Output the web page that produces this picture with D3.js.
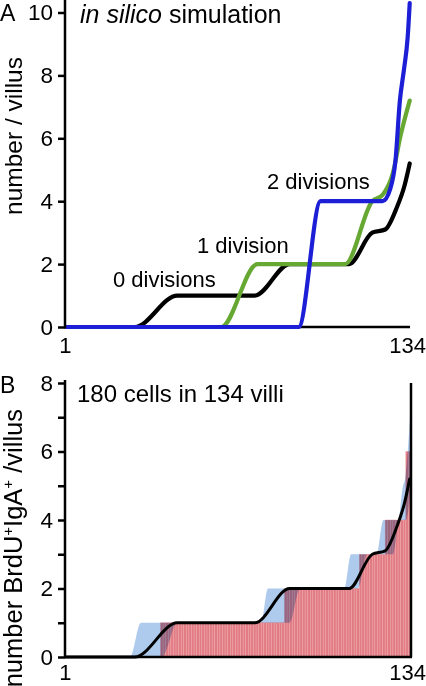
<!DOCTYPE html>
<html>
<head>
<meta charset="utf-8">
<script src="https://cdn.jsdelivr.net/npm/d3@7"></script>
<style>
  html, body { margin: 0; padding: 0; background: #fff; }
  svg { display: block; font-family: "Liberation Sans", Arial, sans-serif; }
</style>
</head>
<body>
<svg id="chart" width="426" height="686"></svg>
<script>
// ---------- data (villus index, value) ----------
const villusTickLabels = [1, 134];
const topYTicks = [0, 2, 4, 6, 8, 10];
const bottomYTicks = [0, 1, 2, 3, 4, 5, 6, 7, 8];
const bottomYTickLabels = [0, 2, 4, 6, 8];

// panel A: simulated sorted counts per villus
const zeroDivisions = [[1,0],[27.5,0],[44,1],[74,1],[87.5,2],[110.5,2],[119.5,3],[124.5,3.1],[129,3.8],[132,4.5],[134,5.2]];
const oneDivision   = [[1,0],[61,0],[75,2],[109,2],[119.5,4],[123.5,4.2],[127.5,4.9],[130.5,6.1],[134,7.2]];
const twoDivisions  = [[1,0],[91,0],[99.5,4],[123.5,4],[126.5,4.4],[128.5,5.3],[130.2,7.2],[131.8,8.2],[133.2,9.2],[134,10.3]];

// panel B: observed BrdU+IgA+ cells per villus (sorted), run-length encoded
const observedLevels = [0, 1, 2, 3, 4, 6];
const observedVilli  = [37, 48, 29, 10, 8, 2];
// simulation envelope (upper / lower)
const bandUpper = [[1,0],[25.7,0],[29.9,1],[76.4,1],[79.1,2],[108.6,2],[111.3,3],[121.1,3],[123.8,4],[129.5,4],[131.4,5],[132.2,5.2],[134.5,7.5]];
const bandLower = [[1,0],[38,0],[44,1],[87.5,1],[91.5,2],[114,2],[117.5,3],[127.5,3],[130,4],[132.5,4],[134.5,5]];

// ---------- setup ----------
const svg = d3.select("#chart");
const FONT = 22;
const TICKFONT = 22.5;
const x = d3.scaleLinear().domain([0.5, 134.5]).range([65, 411]);
const yA = d3.scaleLinear().domain([0, 10]).range([327, 12.5]);
const yB = d3.scaleLinear().domain([0, 8]).range([657, 383]);

// ---------- panel A ----------
const gA = svg.append("g");
const lineA = d3.line().x(d => x(d[0])).y(d => yA(d[1])).curve(d3.curveMonotoneX);

gA.append("line").attr("x1", 65).attr("x2", 410).attr("y1", yA(0)).attr("y2", yA(0))
  .attr("stroke", "#000").attr("stroke-width", 2.5);

const series = [
  {data: zeroDivisions, color: "#000000"},
  {data: oneDivision,   color: "#66a832"},
  {data: twoDivisions,  color: "#1c1fd6"}
];
series.forEach(s => {
  gA.append("path").attr("d", lineA(s.data)).attr("fill", "none")
    .attr("stroke", s.color).attr("stroke-width", 4.2)
    .attr("stroke-linecap", "round").attr("stroke-linejoin", "round");
});

const axA = d3.axisLeft(yA).tickValues(topYTicks).tickSize(7).tickPadding(5).tickFormat(d3.format("d"));
const axAg = gA.append("g").attr("transform", "translate(65,0)").call(axA);
axAg.select(".domain").remove();
axAg.selectAll(".tick line").attr("stroke", "#000").attr("stroke-width", 2.5);
axAg.selectAll(".tick text").attr("font-size", TICKFONT).attr("fill", "#000")
  .attr("font-family", "Liberation Sans, Arial, sans-serif");
gA.append("line").attr("x1", 65).attr("x2", 65).attr("y1", 0).attr("y2", yA(0) + 1.2)
  .attr("stroke", "#000").attr("stroke-width", 2.5);

gA.append("text").attr("x", 0).attr("y", 21).attr("font-size", 23).text("A");
const tA = gA.append("text").attr("x", 80).attr("y", 23).attr("font-size", 25);
tA.append("tspan").attr("font-style", "italic").text("in silico");
tA.append("tspan").text(" simulation");

gA.append("text").attr("transform", "translate(22,136) rotate(-90)")
  .attr("text-anchor", "middle").attr("font-size", 24.5).text("number / villus");

gA.append("text").attr("x", 113).attr("y", 287).attr("font-size", FONT).text("0 divisions");
gA.append("text").attr("x", 197).attr("y", 253).attr("font-size", FONT).text("1 division");
gA.append("text").attr("x", 267).attr("y", 189).attr("font-size", FONT).text("2 divisions");

gA.selectAll(".xlab").data(villusTickLabels).enter().append("text")
  .attr("x", d => x(d) + (d === 1 ? -1 : -2)).attr("y", 353)
  .attr("text-anchor", "middle").attr("font-size", FONT).text(d => d);

// ---------- panel B ----------
const gB = svg.append("g");
const areaU = d3.area().x(d => x(d[0])).y0(yB(0)).y1(d => yB(d[1])).curve(d3.curveMonotoneX);

gB.append("path").attr("d", areaU(bandUpper)).attr("fill", "#aecbee");
gB.append("path").attr("d", areaU(bandLower)).attr("fill", "#ffffff");

// expand run-length observed data into per-villus bars
const observed = [];
let idx = 1;
observedLevels.forEach((lv, k) => {
  for (let j = 0; j < observedVilli[k]; j++) observed.push({villus: idx++, value: lv});
});

const bars = gB.append("g").style("mix-blend-mode", "multiply");
bars.selectAll("rect").data(observed.filter(d => d.value > 0)).enter().append("rect")
  .attr("x", d => x(d.villus - 0.5))
  .attr("width", x(1) - x(0))
  .attr("y", d => yB(d.value))
  .attr("height", d => yB(0) - yB(d.value))
  .attr("fill", "#e27c84")
  .attr("stroke", "#eea5aa").attr("stroke-width", 0.5);

const lineB = d3.line().x(d => x(d[0])).y(d => yB(d[1])).curve(d3.curveMonotoneX);
gB.append("path").attr("d", lineB(zeroDivisions)).attr("fill", "none")
  .attr("stroke", "#000").attr("stroke-width", 3).attr("stroke-linecap", "round");

gB.append("line").attr("x1", 65).attr("x2", 412).attr("y1", yB(0)).attr("y2", yB(0))
  .attr("stroke", "#000").attr("stroke-width", 2.5);
gB.append("line").attr("x1", 411).attr("x2", 411).attr("y1", yB(0)).attr("y2", yB(8))
  .attr("stroke", "#000").attr("stroke-width", 2.5);

const axB = d3.axisLeft(yB).tickValues(bottomYTicks).tickSize(7).tickPadding(5)
  .tickFormat(d => bottomYTickLabels.includes(d) ? d : "");
const axBg = gB.append("g").attr("transform", "translate(65,0)").call(axB);
axBg.select(".domain").remove();
axBg.selectAll(".tick line").attr("stroke", "#000").attr("stroke-width", 2.5);
axBg.selectAll(".tick text").attr("font-size", TICKFONT).attr("fill", "#000")
  .attr("font-family", "Liberation Sans, Arial, sans-serif");
gB.append("line").attr("x1", 65).attr("x2", 65).attr("y1", 380).attr("y2", yB(0) + 1.2)
  .attr("stroke", "#000").attr("stroke-width", 2.5);

gB.append("text").attr("x", 0).attr("y", 393).attr("font-size", 23).text("B");
gB.append("text").attr("x", 77).attr("y", 402).attr("font-size", 24).text("180 cells in 134 villi");

const tB = gB.append("text").attr("transform", "translate(22,409) rotate(-90)")
  .attr("text-anchor", "end").attr("font-size", 25.5);
tB.append("tspan").text("number BrdU");
tB.append("tspan").attr("font-size", 15).attr("dy", -9).text("+");
tB.append("tspan").attr("dy", 9).text("IgA");
tB.append("tspan").attr("font-size", 15).attr("dy", -9).text("+");
tB.append("tspan").attr("dy", 9).text(" /villus");

gB.selectAll(".xlab").data(villusTickLabels).enter().append("text")
  .attr("x", d => x(d) + (d === 1 ? -1 : -2)).attr("y", 680)
  .attr("text-anchor", "middle").attr("font-size", FONT).text(d => d);
</script>
</body>
</html>
